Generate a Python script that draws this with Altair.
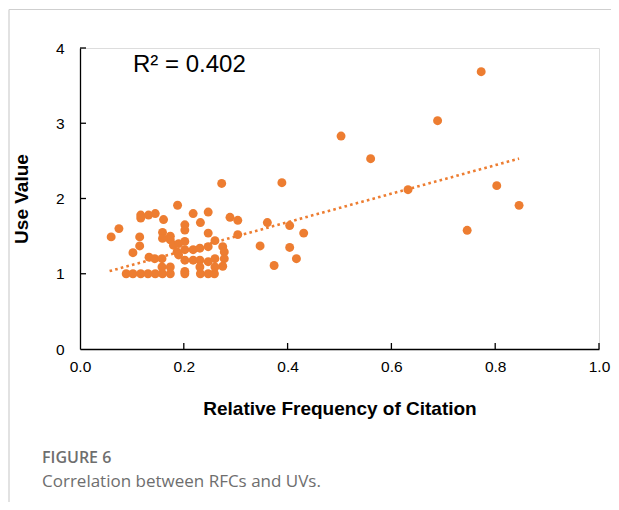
import altair as alt
import pandas as pd

# Relative Frequency of Citation (RFC) and Use Value (UV) per species
rfc = [
    0.089, 0.102, 0.117, 0.131, 0.145, 0.159, 0.174, 0.202, 0.232, 0.247, 0.259,
    0.060, 0.075, 0.102, 0.115, 0.115, 0.117, 0.117, 0.132, 0.145, 0.161, 0.188,
    0.218, 0.247, 0.232, 0.273, 0.289, 0.304, 0.304, 0.202, 0.202, 0.159, 0.159,
    0.174, 0.180, 0.187, 0.133, 0.144, 0.158, 0.158, 0.174, 0.247, 0.260, 0.202,
    0.202, 0.190, 0.218, 0.231, 0.247, 0.275, 0.278, 0.278, 0.275, 0.202, 0.218,
    0.231, 0.247, 0.260, 0.260, 0.231, 0.202, 0.174, 0.190,
    0.361, 0.404, 0.431, 0.347, 0.404, 0.417, 0.374, 0.389,
    0.773, 0.689, 0.503, 0.560, 0.632, 0.803, 0.846, 0.746,
]
uv = [
    1.00, 1.00, 1.00, 1.00, 1.00, 1.00, 1.00, 1.00, 1.00, 1.00, 1.00,
    1.49, 1.60, 1.28, 1.49, 1.37, 1.78, 1.74, 1.78, 1.80, 1.72, 1.91,
    1.80, 1.82, 1.68, 2.20, 1.75, 1.71, 1.52, 1.65, 1.58, 1.55, 1.47,
    1.45, 1.38, 1.29, 1.22, 1.20, 1.20, 1.09, 1.09, 1.54, 1.44, 1.43,
    1.32, 1.25, 1.32, 1.34, 1.36, 1.36, 1.29, 1.20, 1.10, 1.18, 1.18,
    1.18, 1.16, 1.20, 1.09, 1.09, 1.03, 1.50, 1.40,
    1.68, 1.64, 1.54, 1.37, 1.35, 1.20, 1.11, 2.21,
    3.685, 3.034, 2.830, 2.529, 2.117, 2.171, 1.909, 1.577,
]
# linear trend line (as drawn in the figure), read at its two ends
trend_rfc = [0.057, 0.846]
trend_uv = [1.035, 2.530]

x_ticks = [0.2, 0.4, 0.6, 0.8, 1.0]
y_ticks = [1, 2, 3, 4]
r2_label = "R² = 0.402"
x_title = "Relative Frequency of Citation"
y_title = "Use Value"
fig_label = "FIGURE 6"
fig_caption = "Correlation between RFCs and UVs."

ORANGE = "#ED7D31"
W, H = 519, 301

df = pd.DataFrame({"rfc": rfc, "uv": uv})
tdf = pd.DataFrame({"rfc": trend_rfc, "uv": trend_uv})
xt = pd.DataFrame({"t": x_ticks})
yt = pd.DataFrame({"t": y_ticks})
one = pd.DataFrame({"k": [0]})

xscale = alt.Scale(domain=[0, 1], nice=False, zero=True)
yscale = alt.Scale(domain=[0, 4], nice=False, zero=True)

points = alt.Chart(df).mark_circle(size=80, color=ORANGE, opacity=1).encode(
    x=alt.X("rfc:Q", scale=xscale,
            axis=alt.Axis(title=x_title, values=[0, 0.2, 0.4, 0.6, 0.8, 1.0], format=".1f",
                          grid=False, ticks=False, domainColor="black", domainWidth=1.3,
                          labelFont="Liberation Sans", labelFontSize=15.5, labelColor="black",
                          labelPadding=10, labelFlush=False,
                          titleFont="Liberation Sans", titleFontSize=19, titleFontWeight="bold",
                          titleColor="black", titlePadding=25)),
    y=alt.Y("uv:Q", scale=yscale,
            axis=alt.Axis(title=y_title, values=[0, 1, 2, 3, 4], format="d",
                          grid=False, ticks=False, domainColor="black", domainWidth=1.3,
                          labelFont="Liberation Sans", labelFontSize=15.5, labelColor="black",
                          labelPadding=16, labelFlush=False,
                          titleFont="Liberation Sans", titleFontSize=19, titleFontWeight="bold",
                          titleColor="black", titlePadding=24)),
)

trend = alt.Chart(tdf).mark_line(
    color=ORANGE, strokeWidth=2.6, strokeDash=[2.6, 3.2]
).encode(x=alt.X("rfc:Q", scale=xscale), y=alt.Y("uv:Q", scale=yscale))

xtick = alt.Chart(xt).mark_rule(color="black", strokeWidth=1.3).encode(
    x=alt.X("t:Q", scale=xscale), y=alt.value(H), y2=alt.value(H - 6))
ytick = alt.Chart(yt).mark_rule(color="black", strokeWidth=1.3).encode(
    y=alt.Y("t:Q", scale=yscale), x=alt.value(0), x2=alt.value(6))

r2 = alt.Chart(one).mark_text(align="left", baseline="alphabetic", font="Liberation Sans",
                              fontSize=24, color="black").encode(
    x=alt.value(53), y=alt.value(23.7), text=alt.value(r2_label))

figlab = alt.Chart(one).mark_text(align="left", baseline="middle", font="Open Sans",
                                  fontSize=16, fontWeight=600, color="#6e6e6e").encode(
    x=alt.value(-38), y=alt.value(410), text=alt.value(fig_label))
figcap = alt.Chart(one).mark_text(align="left", baseline="middle", font="Open Sans",
                                  fontSize=17, color="#6e6e6e").encode(
    x=alt.value(-38), y=alt.value(434), text=alt.value(fig_caption))

border_top = alt.Chart(one).mark_rule(color="#cfcfcf", strokeWidth=1.2).encode(
    x=alt.value(-71), x2=alt.value(540), y=alt.value(-38.5))
border_left = alt.Chart(one).mark_rule(color="#cfcfcf", strokeWidth=1.2).encode(
    x=alt.value(-71), y=alt.value(-38.5), y2=alt.value(460))

chart = alt.layer(
    border_top, border_left, trend, points, xtick, ytick, r2, figlab, figcap
).properties(
    width=W, height=H,
    autosize=alt.AutoSizeParams(type="none"),
    padding={"left": 72, "top": 40, "right": 12, "bottom": 153},
).configure_view(stroke=None).configure(background="white")

chart.save("out.html", embed_options={"renderer": "svg", "actions": False})
